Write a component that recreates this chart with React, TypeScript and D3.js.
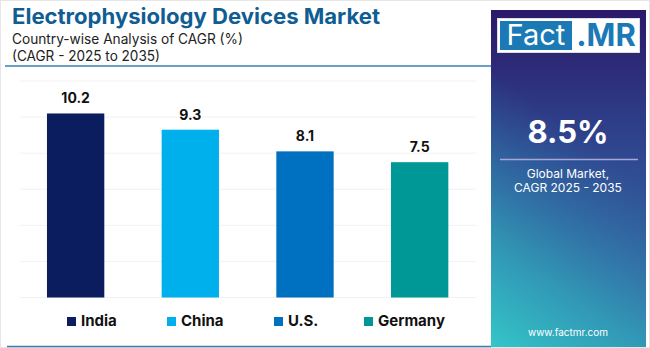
import React from "react";
import * as d3 from "d3";

const countries = ["India", "China", "U.S.", "Germany"];
const cagr = [10.2, 9.3, 8.1, 7.5];
const colors = ["#0b1d5e", "#00b0ec", "#0070c0", "#009797"];
const gridTicks = [0, 2, 4, 6, 8, 10, 12];
const globalValue = "8.5%";

const W = 650;
const H = 348;

export default function App() {
  const x = d3.scaleBand<string>().domain(countries).range([18.3, 477]).paddingInner(0.5).paddingOuter(0.25);
  const y = d3.scaleLinear().domain([0, 12]).range([297.5, 81]);
  const legendX = [67, 167, 274, 364];
  const font = "Inter, 'Noto Sans', sans-serif";
  return (
    <div style={{ position: "fixed", left: 0, top: 0 }}>
      <svg width={W} height={H} viewBox={`0 0 ${W} ${H}`} style={{ display: "block", background: "#fff" }}>
        <defs>
          <linearGradient id="panelBase" x1="0.5" y1="0" x2="0.5" y2="1">
            <stop offset="0" style={{ stopColor: "#2b196a" }} />
            <stop offset="0.45" style={{ stopColor: "#2f4a92" }} />
            <stop offset="1" style={{ stopColor: "#3670a8" }} />
          </linearGradient>
          <linearGradient id="panelGlow" gradientUnits="userSpaceOnUse" x1="491" y1="347" x2="625" y2="170">
            <stop offset="0" style={{ stopColor: "#34c6c8", stopOpacity: 1 }} />
            <stop offset="0.4" style={{ stopColor: "#30b2c0", stopOpacity: 0.65 }} />
            <stop offset="1" style={{ stopColor: "#2f80b0", stopOpacity: 0 }} />
          </linearGradient>
        </defs>
        <rect x={0.5} y={0.5} width={W - 1} height={H - 1} fill="none" stroke="#e6e6e6" />
        <text x={12} y={24} fontFamily={font} fontWeight={700} fontSize={21} fill="#0f5d93" textLength={368} lengthAdjust="spacingAndGlyphs">
          Electrophysiology Devices Market
        </text>
        <text x={12} y={44} fontFamily={font} fontSize={14} fill="#222" textLength={231} lengthAdjust="spacingAndGlyphs">Country-wise Analysis of CAGR (%)</text>
        <text x={12} y={61} fontFamily={font} fontSize={14} fill="#222" textLength={148} lengthAdjust="spacingAndGlyphs">(CAGR - 2025 to 2035)</text>
        <line x1={5} x2={491} y1={66} y2={66} stroke="#3a7fb0" strokeWidth={1.5} />
        <line x1={7} x2={491} y1={346.5} y2={346.5} stroke="#3a7fb0" strokeWidth={1.5} />
        {gridTicks.map((t) => (
          <line key={t} x1={20} x2={476} y1={y(t)} y2={y(t)} stroke="#f2f2f2" strokeWidth={1} />
        ))}
        {countries.map((c, i) => (
          <g key={c}>
            <rect x={x(c)} y={y(cagr[i])} width={x.bandwidth()} height={y(0) - y(cagr[i])} fill={colors[i]} />
            <text x={(x(c) as number) + x.bandwidth() / 2} y={y(cagr[i]) - 10} textAnchor="middle" fontFamily={font} fontWeight={700} fontSize={14} fill="#111">
              {cagr[i].toFixed(1)}
            </text>
          </g>
        ))}
        {countries.map((c, i) => (
          <g key={"l" + c}>
            <rect x={legendX[i]} y={317} width={9} height={9} fill={colors[i]} />
            <text x={legendX[i] + 14} y={326} fontFamily={font} fontWeight={700} fontSize={15} fill="#111">{c}</text>
          </g>
        ))}
        <rect x={491} y={10} width={155} height={337} style={{ fill: "url(#panelBase)" }} />
        <rect x={491} y={10} width={155} height={337} style={{ fill: "url(#panelGlow)" }} />
        <rect x={497.5} y={18.5} width={142} height={34} fill="#fff" stroke="#ddd" />
        <rect x={500} y={21} width={72} height={29} fill="#1b7ab6" />
        <text x={536} y={45} textAnchor="middle" fontFamily={font} fontSize={29} fill="#fff">Fact</text>
        <text x={606} y={46} textAnchor="middle" fontFamily={font} fontWeight={700} fontSize={31} fill="#1b7ab6">.MR</text>
        <text x={568} y={143} textAnchor="middle" fontFamily={font} fontWeight={700} fontSize={31} fill="#fff">{globalValue}</text>
        <line x1={500} x2={638} y1={159.5} y2={159.5} stroke="#a9a6d6" strokeWidth={1.5} />
        <text x={568} y={178} textAnchor="middle" fontFamily={font} fontSize={12} fill="#fff">Global Market,</text>
        <text x={568} y={192} textAnchor="middle" fontFamily={font} fontSize={12} fill="#fff">CAGR 2025 - 2035</text>
        <text x={568} y={336} textAnchor="middle" fontFamily={font} fontSize={10} fill="#fff">www.factmr.com</text>
      </svg>
    </div>
  );
}
